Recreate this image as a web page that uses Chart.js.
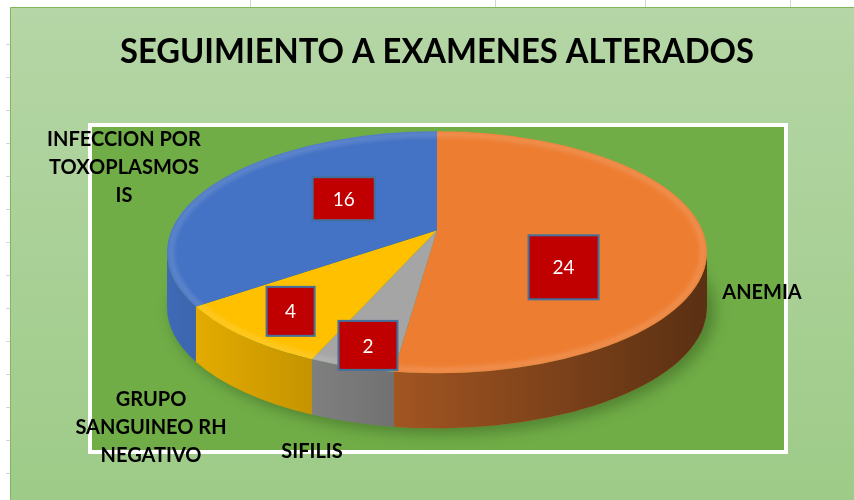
<!DOCTYPE html>
<html lang="es">
<head>
<meta charset="utf-8">
<title>Seguimiento a examenes alterados</title>
<script src="https://cdn.jsdelivr.net/npm/chart.js@4.4.1/dist/chart.umd.min.js"></script>
<style>
  html, body { margin: 0; padding: 0; background: #ffffff; }
  #grafico { display: block; }
</style>
</head>
<body>
<canvas id="grafico" width="854" height="500"></canvas>
<script>
const titulo = 'SEGUIMIENTO A EXAMENES ALTERADOS';
const categorias = ['ANEMIA', 'SIFILIS', 'GRUPO SANGUINEO RH NEGATIVO', 'INFECCION POR TOXOPLASMOSIS'];
const casos = [24, 2, 4, 16];
const colores = ['#ED7D31', '#A5A5A5', '#FFC000', '#4472C4'];
// texto de las etiquetas tal como aparece partido en el grafico
const lineasEtiqueta = [
  ['ANEMIA'],
  ['SIFILIS'],
  ['GRUPO', 'SANGUINEO RH', 'NEGATIVO'],
  ['INFECCION POR', 'TOXOPLASMOS', 'IS']
];

// estilos (posiciones de textos y cajas, no datos)
const posEtiqueta = [[762, 293], [312, 452], [151, 400], [124, 140]];
const ajusteCaja = [[-40, 32], [-24, 43], [-41, 23], [55, 3]];
const tamCaja = [[70, 64], [59, 49], [48, 49], [62, 43]];

function fondoHoja(ctx) {
  ctx.fillStyle = '#ffffff';
  ctx.fillRect(0, 0, 854, 500);
  ctx.strokeStyle = '#d4d4d4';
  ctx.lineWidth = 1;
  [250, 495, 645, 790].forEach(x => {
    ctx.beginPath(); ctx.moveTo(x + 0.5, 0); ctx.lineTo(x + 0.5, 8); ctx.stroke();
  });
  for (let y = 44; y < 500; y += 33) {
    ctx.beginPath(); ctx.moveTo(6, y + 0.5); ctx.lineTo(10, y + 0.5); ctx.stroke();
  }
  // area del grafico
  const g = ctx.createLinearGradient(0, 8, 0, 500);
  g.addColorStop(0, '#b5d6a6');
  g.addColorStop(1, '#9ecb88');
  ctx.fillStyle = g;
  ctx.fillRect(10, 7, 844, 493);
  ctx.strokeStyle = '#7fb75c';
  ctx.lineWidth = 1;
  ctx.beginPath(); ctx.moveTo(10.5, 500); ctx.lineTo(10.5, 7.5); ctx.lineTo(854, 7.5); ctx.stroke();
  // area de trazado
  ctx.fillStyle = '#70AD47';
  ctx.fillRect(88, 123, 700, 331);
  ctx.strokeStyle = '#ffffff';
  ctx.lineWidth = 4;
  ctx.strokeRect(90, 125, 696, 327);
}

// geometria del pastel en perspectiva a partir del arco de Chart.js
function geometria(chart, o) {
  const arcos = chart.getDatasetMeta(0).data;
  const ax = arcos[0].x, ay = arcos[0].y, r = arcos[0].outerRadius;
  return {
    arcos, ax, ay, r,
    cx: ax, cy: ay + r * o.desplazamiento,
    rx: r * o.elipseX, ry: r * o.elipseY, h: r * o.grosor,
    sx: o.cunaX, sy: o.cunaY
  };
}

// angulo sobre el borde de la elipse donde corta el rayo de la cuna
function anguloBorde(G, th) {
  const dx = G.r * G.sx * Math.cos(th), dy = G.r * G.sy * Math.sin(th);
  const off = G.cy - G.ay;
  const A = (dx * dx) / (G.rx * G.rx) + (dy * dy) / (G.ry * G.ry);
  const B = -2 * dy * off / (G.ry * G.ry);
  const C = (off * off) / (G.ry * G.ry) - 1;
  const t = (-B + Math.sqrt(B * B - 4 * A * C)) / (2 * A);
  const px = G.ax + t * dx, py = G.ay + t * dy;
  let phi = Math.atan2((py - G.cy) / G.ry, (px - G.cx) / G.rx);
  while (phi < th - Math.PI) phi += Math.PI * 2;
  while (phi > th + Math.PI) phi -= Math.PI * 2;
  return phi;
}

const pastel3D = {
  id: 'pastel3D',
  beforeDraw(chart) {
    fondoHoja(chart.ctx);
  },
  beforeDatasetsDraw(chart, args, opts) {
    const ctx = chart.ctx;
    const G = geometria(chart, opts);
    const { cx, cy, rx, ry, h } = G;

    // sombra bajo el pastel
    ctx.save();
    ctx.filter = 'blur(7px)';
    ctx.fillStyle = 'rgba(45, 80, 25, 0.45)';
    ctx.beginPath();
    ctx.ellipse(cx + 6, cy + h + 4, rx + 2, ry + 2, 0, 0, Math.PI * 2);
    ctx.fill();
    ctx.restore();

    // lado visible de cada porcion
    const sombra = ctx.createLinearGradient(cx - rx, 0, cx + rx, 0);
    sombra.addColorStop(0, 'rgba(0,0,0,0.08)');
    sombra.addColorStop(0.5, 'rgba(0,0,0,0.36)');
    sombra.addColorStop(1, 'rgba(0,0,0,0.62)');
    G.arcos.forEach(arco => {
      const a = Math.max(anguloBorde(G, arco.startAngle), 0);
      const b = Math.min(anguloBorde(G, arco.endAngle), Math.PI);
      if (b <= a) return;
      ctx.beginPath();
      ctx.ellipse(cx, cy, rx, ry, 0, a, b);
      ctx.ellipse(cx, cy + h, rx, ry, 0, b, a, true);
      ctx.closePath();
      ctx.fillStyle = arco.options.backgroundColor;
      ctx.fill();
      ctx.fillStyle = sombra;
      ctx.fill();
    });

    // cara superior: cunas desde el vertice, recortadas por la elipse
    ctx.save();
    ctx.beginPath();
    ctx.ellipse(cx, cy, rx, ry, 0, 0, Math.PI * 2);
    ctx.clip();
    ctx.translate(G.ax, G.ay);
    ctx.scale(G.sx, G.sy);
    ctx.translate(-G.ax, -G.ay);
  },
  afterDatasetsDraw(chart, args, opts) {
    const ctx = chart.ctx;
    ctx.restore();
    const G = geometria(chart, opts);
    const { cx, cy, rx, ry } = G;

    // bisel claro en el borde
    ctx.save();
    ctx.beginPath();
    ctx.ellipse(cx, cy, rx, ry, 0, 0, Math.PI * 2);
    ctx.clip();
    ctx.filter = 'blur(2px)';
    ctx.lineWidth = 6;
    ctx.strokeStyle = 'rgba(255,255,255,0.14)';
    ctx.beginPath();
    ctx.ellipse(cx, cy, rx - 4, ry - 3, 0, 0, Math.PI * 2);
    ctx.stroke();
    ctx.restore();

    // cajas con los valores
    ctx.save();
    ctx.font = '19px Lato, "Open Sans", sans-serif';
    ctx.textAlign = 'center';
    ctx.textBaseline = 'middle';
    G.arcos.forEach((arco, i) => {
      const t = (arco.startAngle + arco.endAngle) / 2;
      const x = G.ax + 0.5 * G.r * G.sx * Math.cos(t) + ajusteCaja[i][0];
      const y = G.ay + 0.5 * G.r * G.sy * Math.sin(t) + ajusteCaja[i][1];
      const w = tamCaja[i][0], hh = tamCaja[i][1];
      ctx.fillStyle = '#C00000';
      ctx.fillRect(x - w / 2, y - hh / 2, w, hh);
      ctx.strokeStyle = '#41719C';
      ctx.lineWidth = 2;
      ctx.strokeRect(x - w / 2, y - hh / 2, w, hh);
      ctx.fillStyle = '#ffffff';
      ctx.fillText(String(casos[i]), x, y + 1);
    });

    // nombres de las categorias
    ctx.font = 'bold 20px Lato, "Open Sans", sans-serif';
    ctx.fillStyle = '#000000';
    lineasEtiqueta.forEach((lineas, i) => {
      lineas.forEach((txt, j) => {
        ctx.fillText(txt, posEtiqueta[i][0], posEtiqueta[i][1] + j * 28);
      });
    });
    ctx.restore();
  }
};

const ctx = document.getElementById('grafico').getContext('2d');
new Chart(ctx, {
  type: 'pie',
  data: {
    labels: categorias,
    datasets: [{
      data: casos,
      backgroundColor: colores,
      borderWidth: 0,
      hoverOffset: 0
    }]
  },
  options: {
    responsive: false,
    animation: false,
    devicePixelRatio: 1,
    layout: { padding: { left: 120, right: 100, top: 7, bottom: 140 } },
    plugins: {
      legend: { display: false },
      tooltip: { enabled: false },
      title: {
        display: true,
        text: titulo,
        color: '#000000',
        font: { family: 'Lato', size: 34, weight: 'bold', lineHeight: 1.1 },
        padding: { top: 26, bottom: 30 }
      },
      pastel3D: {
        desplazamiento: 0.17, elipseX: 2.08, elipseY: 0.932, grosor: 0.424,
        cunaX: 2.573, cunaY: 1.155
      }
    }
  },
  plugins: [pastel3D]
});
</script>
</body>
</html>
